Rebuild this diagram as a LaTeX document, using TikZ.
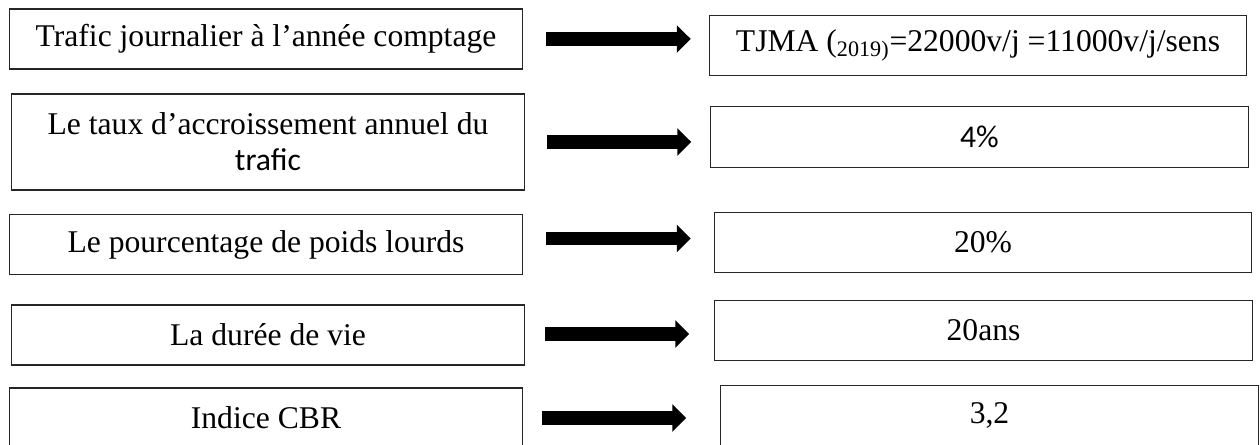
\documentclass[tikz,border=0pt]{standalone}
\usepackage{fontspec}
\setmainfont{Liberation Serif}
\newfontfamily\calibrifont{Carlito}
\usetikzlibrary{arrows.meta}
\tikzset{
  param box/.style={
    draw=black!85,
    line width=0.6pt,
    inner sep=0pt,
    align=center,
    font=\fontsize{18}{20.5}\selectfont
  },
  input box/.style={
    param box,
    minimum width=10.28cm,
    minimum height=1.2cm
  },
  value box/.style={
    param box,
    minimum width=10.75cm,
    minimum height=1.21cm
  },
  fat arrow/.style={
    -{Triangle[length=0.28cm, width=0.54cm]},
    line width=0.27cm,
    color=black
  }
}

\begin{document}
\begin{tikzpicture}[x=0.02cm, y=0.02cm]

  \useasboundingbox (0,0) rectangle (1260,445);

  %% ---- données d'entrée (colonne gauche) ----
  \node[input box] (in1) at (266,406) {Trafic journalier à l’année comptage};
  \node[input box, minimum height=1.92cm] (in2) at (268,303)
      {Le taux d’accroissement annuel du\\{\calibrifont trafic}};
  \node[input box] (in3) at (266,200.5) {Le pourcentage de poids lourds};
  \node[input box] (in4) at (268,110) {La durée de vie};
  \node[input box] (in5) at (266,27) {Indice CBR};

  %% ---- valeurs retenues (colonne droite) ----
  \node[value box] (out1) at (978,399.5)
      {TJMA (\textsubscript{2019)}=22000v/j =11000v/j/sens};
  \node[value box] (out2) at (979.5,308) {\calibrifont 4\%};
  \node[value box] (out3) at (983,202.5) {20\%};
  \node[value box] (out4) at (983.5,114.5) {20ans};
  \node[value box] (out5) at (989.5,29.5) {3,2};

  %% ---- flèches ----
  % ligne / décalage vertical / écart gauche / écart droit (en px)
  \foreach \i/\dy/\ga/\gb in {1/0/23/18, 2/0/22/19, 3/6/23/23, 4/1/20/25, 5/0/19/34}
    \draw[fat arrow, shorten <=\ga*0.02cm, shorten >=\gb*0.02cm]
        ([yshift=\dy*0.02cm]in\i.east) -- ([yshift=\dy*0.02cm]in\i.east -| out\i.west);

\end{tikzpicture}
\end{document}
